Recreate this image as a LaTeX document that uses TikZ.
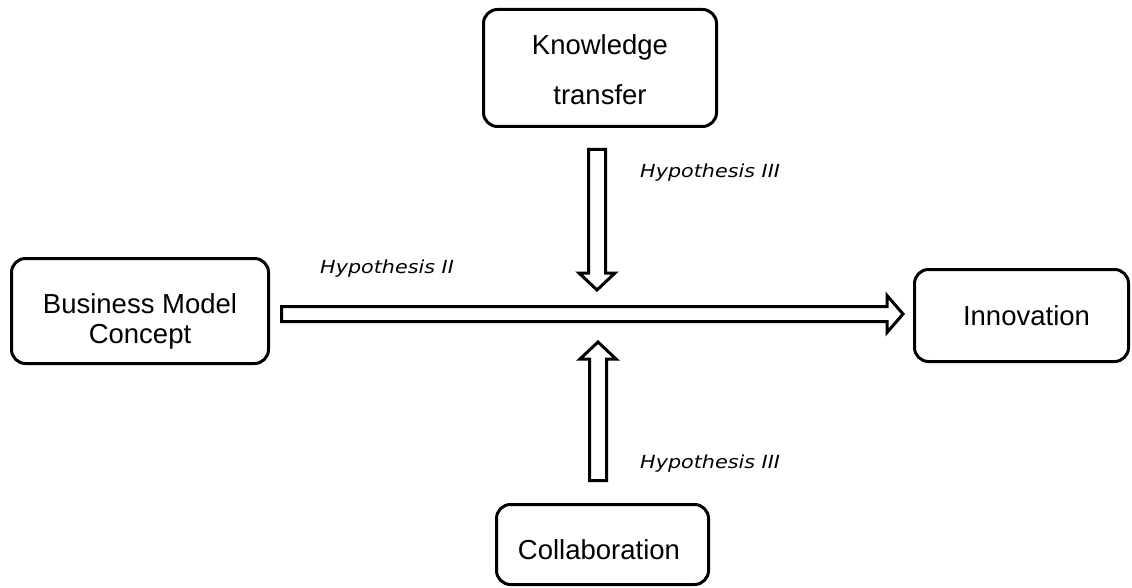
\documentclass[tikz,border=0pt]{standalone}
\usepackage{fontspec}
\usepackage{graphicx}
\setmainfont{Liberation Sans}
\newfontfamily\hypfont{DejaVu Sans}
\usetikzlibrary{calc}

\tikzset{
  box/.style={draw=black, line width=3pt, rounded corners=14pt, inner sep=0pt},
  boxtext/.style={align=center, inner sep=0pt, text=black},
  hollow/.style={draw=black, fill=white, line width=3pt, line join=miter, miter limit=10},
  hyp/.style={anchor=base west, inner sep=0pt, font=\hypfont\itshape\fontsize{18}{20}\selectfont},
}

\begin{document}
\begin{tikzpicture}[x=1pt, y=-1pt]
  \useasboundingbox (0,0) rectangle (1132,588);

  % boxes
  \node[box, minimum width=233pt, minimum height=117pt] (kt) at (600,68) {};
  \node[box, minimum width=257pt, minimum height=105pt] (bmc) at (140,311) {};
  \node[box, minimum width=214pt, minimum height=92pt] (inn) at (1021.5,315.5) {};
  \node[box, minimum width=212pt, minimum height=80pt] (col) at (602.5,544.5) {};

  % box texts
  \node[boxtext, font=\fontsize{27.5}{50}\selectfont] (kt-label) at (600,70) {Knowledge\\transfer};
  \node[boxtext, font=\fontsize{27.5}{30}\selectfont] (bmc-label) at (140,321) {Business Model\\Concept};
  \node[boxtext, font=\fontsize{27.5}{30}\selectfont] (inn-label) at (1026.5,316) {Innovation};
  \node[boxtext, font=\fontsize{27.5}{30}\selectfont] (col-label) at (599,550) {Collaboration};

  % arrow end points
  \coordinate (h-start) at ($(bmc.east)+(11.5,3)$);
  \coordinate (h-end) at ($(inn.west)+(-10,-1.5)$);
  \coordinate (d-start) at ($(kt.south)+(-3,21.5)$);
  \coordinate (d-end) at (d-start |- 0,290);
  \coordinate (u-start) at ($(col.north)+(-4.5,-22.5)$);
  \coordinate (u-end) at (u-start |- 0,342);

  % hollow block arrows
  \draw[hollow] ($(h-start)+(0,-7.5)$) -- ($(h-end)+(-16,-7.5)$) -- ($(h-end)+(-16,-18.5)$)
    -- (h-end) -- ($(h-end)+(-16,18.5)$) -- ($(h-end)+(-16,7.5)$) -- ($(h-start)+(0,7.5)$) -- cycle;
  \draw[hollow] ($(d-start)+(-8.5,0)$) -- ($(d-end)+(-8.5,-17)$) -- ($(d-end)+(-18,-17)$)
    -- (d-end) -- ($(d-end)+(18,-17)$) -- ($(d-end)+(8.5,-17)$) -- ($(d-start)+(8.5,0)$) -- cycle;
  \draw[hollow] ($(u-start)+(-8.5,0)$) -- ($(u-end)+(-8.5,17)$) -- ($(u-end)+(-18,17)$)
    -- (u-end) -- ($(u-end)+(18,17)$) -- ($(u-end)+(8.5,17)$) -- ($(u-start)+(8.5,0)$) -- cycle;

  % hypothesis labels
  \node[hyp] (hyp-top) at (640,178) {\scalebox{1.15}[1]{Hypothesis III}};
  \node[hyp] (hyp-mid) at (320,273) {\scalebox{1.15}[1]{Hypothesis II}};
  \node[hyp] (hyp-bot) at (640,468) {\scalebox{1.15}[1]{Hypothesis III}};
\end{tikzpicture}
\end{document}
